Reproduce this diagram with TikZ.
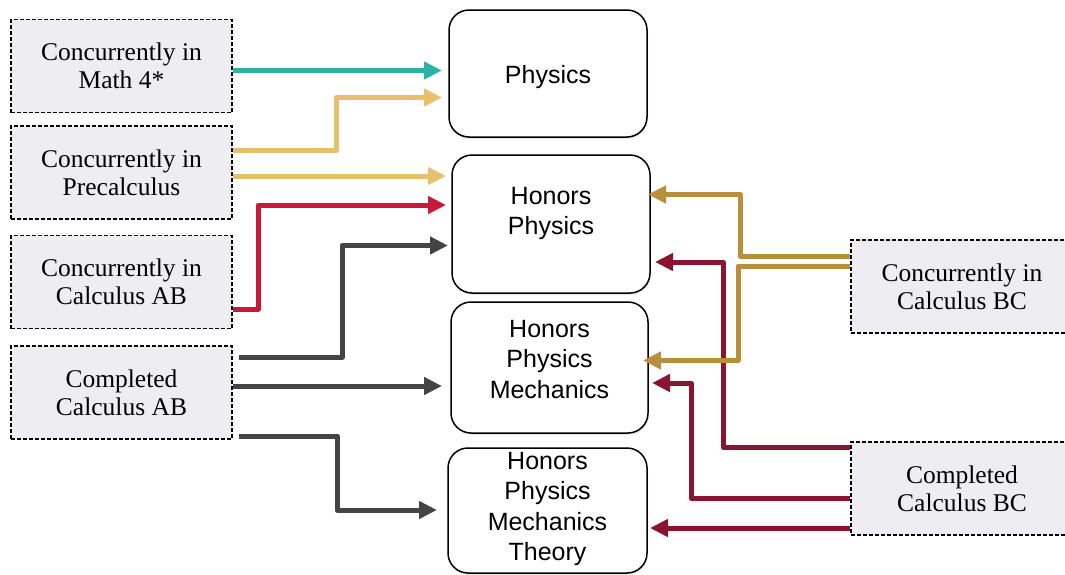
\documentclass[tikz,border=0pt]{standalone}
\usepackage{fontspec}
\setmainfont{Liberation Serif}
\newfontfamily\cfont{Liberation Sans}
\usetikzlibrary{arrows.meta,shadows}
\definecolor{boxfill}{HTML}{EEEEF2}
\definecolor{cteal}{HTML}{2BB3A3}
\definecolor{cyell}{HTML}{E8BF6E}
\definecolor{cred}{HTML}{C8193A}
\definecolor{cdark}{HTML}{444444}
\definecolor{cgold}{HTML}{B98F3E}
\definecolor{cdred}{HTML}{8B1530}
\tikzset{
  lbox/.style={draw=black, line width=1.2pt, dash pattern=on 4pt off 2pt, fill=boxfill,
    minimum width=221pt, minimum height=93pt, inner sep=0pt, align=center,
    font=\fontsize{25.5}{28}\selectfont},
  cbox/.style={draw=black, line width=1.5pt, rounded corners=20pt, fill=white,
    drop shadow={opacity=0.18, shadow xshift=1pt, shadow yshift=-2pt},
    minimum width=198pt, inner sep=0pt},
  ctext/.style={align=center, inner sep=0pt, font=\cfont\fontsize{25}{30.5}\selectfont},
  conn/.style={line width=5pt, line join=round, -{Triangle[length=18pt,width=17pt]}},
}
\begin{document}
\begin{tikzpicture}[x=1pt,y=-1pt]
\useasboundingbox (0,0) rectangle (1065,574);
\clip (0,0) rectangle (1065,574);
% left boxes
\node[lbox] (m4) at (121.5,66) {Concurrently in\\Math 4*};
\node[lbox] (pre) at (121.5,172.5) {Concurrently in\\Precalculus};
\node[lbox] (cab) at (121.5,282) {Concurrently in\\Calculus AB};
\node[lbox] (dab) at (121.5,392.5) {Completed\\Calculus AB};
% right boxes
\node[lbox, minimum width=222pt] (cbc) at (962,286.5) {Concurrently in\\Calculus BC};
\node[lbox, minimum width=222pt] (dbc) at (962,488.5) {Completed\\Calculus BC};
% center boxes
\node[cbox, minimum height=127pt] (ph) at (548,73.5) {};
\node[ctext] (phT) at (548,77) {Physics};
\node[cbox, minimum height=138pt] (hp) at (551,224) {};
\node[ctext] (hpT) at (551,213.5) {Honors\\Physics};
\node[cbox, minimum height=131pt, minimum width=197pt] (hpm) at (549.5,367.5) {};
\node[ctext] (hpmT) at (549.5,359.5) {Honors\\Physics\\Mechanics};
\node[cbox, minimum height=125pt, minimum width=199pt] (hpmt) at (547.5,510.5) {};
\node[ctext] (hpmtT) at (547.5,509) {Honors\\Physics\\Mechanics\\Theory};
% left connectors
\draw[conn, cteal] (m4.east |- {(0,70.5)}) -- (442,70.5);
\draw[conn, cyell] (pre.east |- {(0,150.5)}) -- (336,150.5) -- (336,97.5) -- (442,97.5);
\draw[conn, cyell] (pre.east |- {(0,176)}) -- (446,176);
\draw[conn, cred] (cab.east |- {(0,309)}) -- (258,309) -- (258,205) -- (446,205);
\draw[conn, cdark] ([xshift=6pt]dab.east |- {(0,357)}) -- (342,357) -- (342,245.5) -- (448,245.5);
\draw[conn, cdark] (dab.east |- {(0,386)}) -- (442,386);
\draw[conn, cdark] ([xshift=6pt]dab.east |- {(0,436)}) -- (337,436) -- (337,510) -- (437,510);
% right connectors
\draw[conn, cdred] (dbc.west |- {(0,447)}) -- (723,447) -- (723,262) -- (655,262);
\draw[conn, cdred] (dbc.west |- {(0,498)}) -- (691,498) -- (691,383) -- (652,383);
\draw[conn, cdred] (dbc.west |- {(0,528)}) -- (650,528);
\draw[conn, cgold] (cbc.west |- {(0,256)}) -- (740,256) -- (740,194.5) -- (648,194.5);
\draw[conn, cgold] (cbc.west |- {(0,266)}) -- (738,266) -- (738,360.5) -- (643,360.5);
\end{tikzpicture}
\end{document}
